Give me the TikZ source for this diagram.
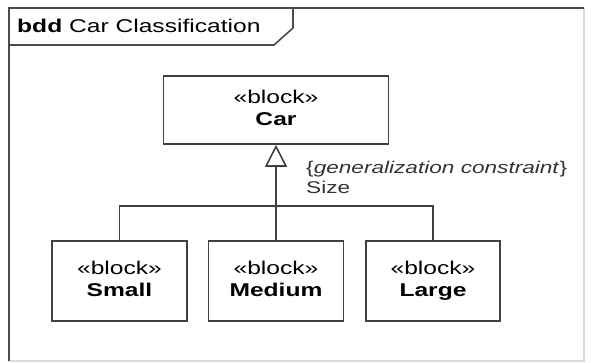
\documentclass[tikz,border=0pt]{standalone}
\usepackage{fontspec}
\setmainfont[FakeStretch=1.33]{Liberation Sans}
\usepackage{tikz}
\usetikzlibrary{arrows.meta}

\newcommand{\blocktext}[1]{«block»\strut\\\textbf{#1}\strut}

\tikzset{
  block/.style={draw=black!75, line width=1.6pt, fill=white, inner sep=0pt,
    align=center, font=\fontsize{18.5}{22.5}\selectfont},
  edge/.style={draw=black!75, line width=1.6pt},
}

\begin{document}
\begin{tikzpicture}[x=1pt, y=-1pt]
        \useasboundingbox (0,0) rectangle (594,363);

        % frame and its tab
        \draw[black!15, line width=1.2pt] (584,8) -- (584,361) -- (9,361);
        \draw[black!70, line width=1.8pt] (9,361) -- (9,8) -- (584,8);
        \draw[black!70, line width=1.6pt] (9,45) -- (274,45) -- (293,28) -- (293,8);
        \node[anchor=west, inner sep=0pt, font=\fontsize{18.5}{22}\selectfont] (title) at (17,26)
            {\textbf{bdd} Car Classification};

        % blocks
        \node[block, minimum width=225pt, minimum height=68pt] (car) at (276,110)
            {\blocktext{Car}};
        \node[block, minimum width=135pt, minimum height=80pt] (small) at (119.5,281)
            {\blocktext{Small}};
        \node[block, minimum width=135pt, minimum height=80pt] (medium) at (276,281)
            {\blocktext{Medium}};
        \node[block, minimum width=134pt, minimum height=80pt] (large) at (433,281)
            {\blocktext{Large}};

        % generalization
        \coordinate (bus) at (276,206);
        \draw[edge] (small.north) |- (bus) -| (large.north);
        \draw[edge, -{Triangle[open, length=22pt, width=22pt, line width=1.6pt]}] (medium.north) -- (car.south);
        \node[anchor=north west, inner sep=0pt, align=left,
              font=\fontsize{17}{19.5}\selectfont, text=black!80] (gen) at (306,161)
            {\{\textit{generalization constraint}\}\\Size};
    \end{tikzpicture}
\end{document}
